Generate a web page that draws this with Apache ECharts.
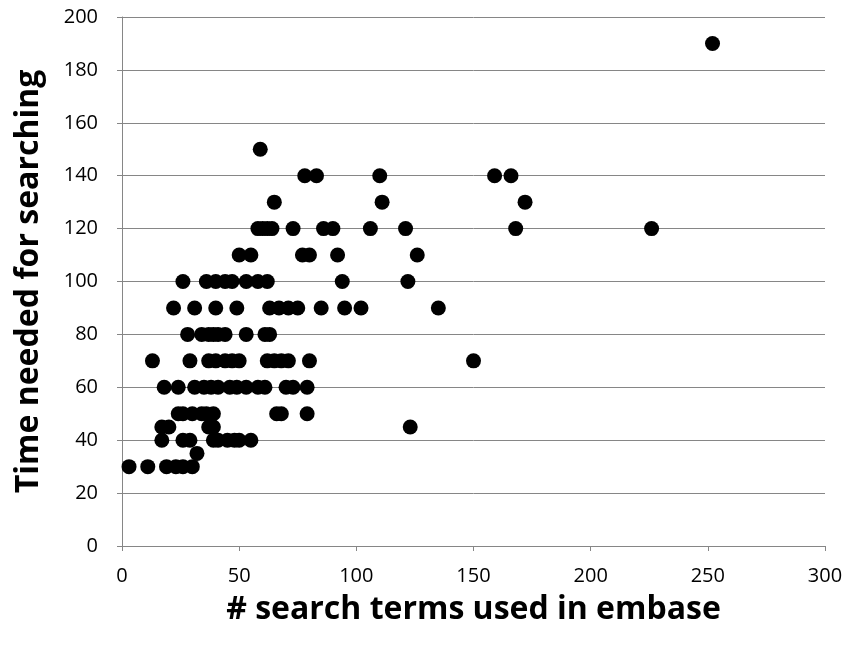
<!DOCTYPE html>
<html>
<head>
<meta charset="utf-8">
<script src="https://cdn.jsdelivr.net/npm/echarts@6/dist/echarts.min.js"></script>
<style>html,body{margin:0;padding:0;background:#fff}#c{width:848px;height:646px}</style>
</head>
<body>
<div id="c"></div>
<script>
// Each row: y value (minutes) and the x values (# search terms) at that y
const rowY = [30, 35, 40, 45, 50, 60, 70, 80, 90, 100, 110, 120, 130, 140, 150, 190];
const rowX = [
  [3, 11, 19, 23, 26, 30],
  [32],
  [17, 26, 29, 39, 41, 45, 48, 50, 55],
  [17, 20, 37, 39, 123],
  [24, 26, 30, 34, 36, 39, 66, 68, 79],
  [18, 24, 31, 35, 38, 41, 46, 49, 53, 58, 61, 70, 73, 79],
  [13, 29, 37, 40, 44, 47, 50, 62, 65, 68, 71, 80, 150],
  [28, 34, 37, 39, 41, 44, 53, 61, 63],
  [22, 31, 40, 49, 63, 67, 71, 75, 85, 95, 102, 135],
  [26, 36, 40, 44, 47, 53, 58, 62, 94, 122],
  [50, 55, 77, 80, 92, 126],
  [58, 60, 62, 64, 73, 86, 90, 106, 121, 168, 226],
  [65, 111, 172],
  [78, 83, 110, 159, 166],
  [59],
  [252]
];
const xTicks = [0, 50, 100, 150, 200, 250, 300];
const yTicks = [0, 20, 40, 60, 80, 100, 120, 140, 160, 180, 200];

const points = [];
rowY.forEach((y, i) => rowX[i].forEach(x => points.push([x, y])));

const chart = echarts.init(document.getElementById('c'), null, {renderer: 'canvas'});
const font = '"Open Sans", "Liberation Sans", sans-serif';
chart.setOption({
  animation: false,
  backgroundColor: '#fff',
  grid: {left: 122, right: 23, top: 17, bottom: 100, containLabel: false},
  xAxis: {
    type: 'value', min: xTicks[0], max: xTicks[xTicks.length - 1], interval: 50,
    name: '# search terms used in embase', nameLocation: 'middle', nameGap: 48,
    nameTextStyle: {fontFamily: font, fontWeight: 'bold', fontSize: 32, color: '#000'},
    axisLine: {show: true, lineStyle: {color: '#868686', width: 1}},
    axisTick: {show: true, length: 5, lineStyle: {color: '#868686'}},
    axisLabel: {fontFamily: font, fontSize: 20, color: '#000', margin: 20},
    splitLine: {show: false}
  },
  yAxis: {
    type: 'value', min: yTicks[0], max: yTicks[yTicks.length - 1], interval: 20,
    name: 'Time needed for searching', nameLocation: 'middle', nameGap: 77,
    nameTextStyle: {fontFamily: font, fontWeight: 'bold', fontSize: 32, color: '#000'},
    axisLine: {show: true, lineStyle: {color: '#868686', width: 1}},
    axisTick: {show: true, length: 5, lineStyle: {color: '#868686'}},
    axisLabel: {fontFamily: font, fontSize: 20, color: '#000', margin: 24},
    splitLine: {show: true, lineStyle: {color: '#868686', width: 1}}
  },
  series: [{
    type: 'scatter',
    data: points,
    symbol: 'circle',
    symbolSize: 15,
    itemStyle: {color: '#000', opacity: 1}
  }]
});
</script>
</body>
</html>
